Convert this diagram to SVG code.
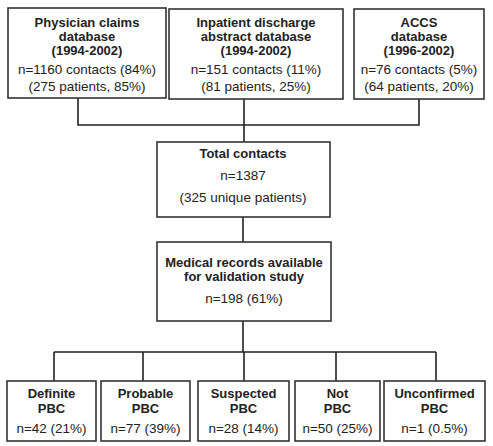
<svg xmlns="http://www.w3.org/2000/svg" width="493" height="446" viewBox="0 0 493 446">
<style>
.box{fill:#fff;stroke:#333;stroke-width:1.6}
.c{fill:none;stroke:#222;stroke-width:1.6}
text{font-family:"Liberation Sans",Arial,sans-serif;font-size:13.5px;fill:#222;text-anchor:middle}
.b{font-weight:bold;font-size:13px}
</style>
<rect width="493" height="446" fill="#fff"/>
<g id="connectors">
<path class="c" d="M78 98V125H419V99M244 99V142M243 217V242M243 321V352M54 352H436M54 352V381M143 352V381M244 352V381M336 352V381M436 352V381"/>
</g>
<g id="physician">
<rect class="box" x="8" y="8" width="158" height="90"/>
<text class="b" x="87" y="27">Physician claims</text>
<text class="b" x="87" y="41">database</text>
<text class="b" x="87" y="55">(1994-2002)</text>
<text x="87" y="74">n=1160 contacts (84%)</text>
<text x="87" y="91">(275 patients, 85%)</text>
</g>
<g id="inpatient">
<rect class="box" x="169" y="9" width="174" height="90"/>
<text class="b" x="256" y="27">Inpatient discharge</text>
<text class="b" x="256" y="41">abstract database</text>
<text class="b" x="256" y="55">(1994-2002)</text>
<text x="256" y="74">n=151 contacts (11%)</text>
<text x="256" y="91">(81 patients, 25%)</text>
</g>
<g id="accs">
<rect class="box" x="354" y="9" width="130" height="90"/>
<text class="b" x="419" y="27">ACCS</text>
<text class="b" x="419" y="41">database</text>
<text class="b" x="419" y="55">(1996-2002)</text>
<text x="419" y="74">n=76 contacts (5%)</text>
<text x="419" y="91">(64 patients, 20%)</text>
</g>
<g id="total">
<rect class="box" x="157" y="142" width="173" height="75"/>
<text class="b" x="243" y="158">Total contacts</text>
<text x="243" y="180">n=1387</text>
<text x="243" y="202">(325 unique patients)</text>
</g>
<g id="medical">
<rect class="box" x="157" y="242" width="174" height="79"/>
<text class="b" x="244" y="267">Medical records available</text>
<text class="b" x="244" y="281">for validation study</text>
<text x="244" y="303">n=198 (61%)</text>
</g>
<g id="definite">
<rect class="box" x="7" y="381" width="89" height="60"/>
<text class="b" x="51.5" y="398">Definite</text>
<text class="b" x="51.5" y="413">PBC</text>
<text x="51.5" y="433">n=42 (21%)</text>
</g>
<g id="probable">
<rect class="box" x="101" y="381" width="89" height="60"/>
<text class="b" x="145.5" y="398">Probable</text>
<text class="b" x="145.5" y="413">PBC</text>
<text x="145.5" y="433">n=77 (39%)</text>
</g>
<g id="suspected">
<rect class="box" x="198" y="381" width="91" height="60"/>
<text class="b" x="243.5" y="398">Suspected</text>
<text class="b" x="243.5" y="413">PBC</text>
<text x="243.5" y="433">n=28 (14%)</text>
</g>
<g id="not">
<rect class="box" x="295" y="381" width="85" height="60"/>
<text class="b" x="337.5" y="398">Not</text>
<text class="b" x="337.5" y="413">PBC</text>
<text x="337.5" y="433">n=50 (25%)</text>
</g>
<g id="unconfirmed">
<rect class="box" x="384" y="381" width="101" height="60"/>
<text class="b" x="434.5" y="398">Unconfirmed</text>
<text class="b" x="434.5" y="413">PBC</text>
<text x="434.5" y="433">n=1 (0.5%)</text>
</g>
</svg>
